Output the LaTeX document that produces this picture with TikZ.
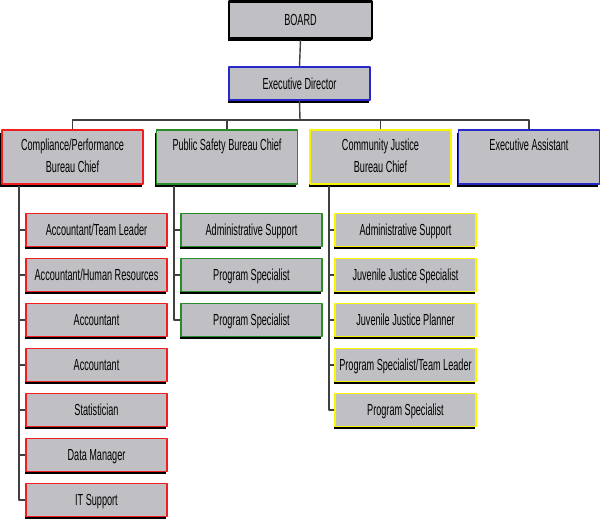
\documentclass[tikz,border=0pt]{standalone}
\usepackage{fontspec}
\setmainfont{Liberation Sans}[FakeStretch=0.57]
\usetikzlibrary{shadows}

\definecolor{boxgray}{RGB}{192,192,196}
\definecolor{linkgray}{RGB}{64,64,64}
\definecolor{redline}{RGB}{240,30,30}
\definecolor{greenline}{RGB}{40,140,40}
\definecolor{yellowline}{RGB}{250,245,0}
\definecolor{blueline}{RGB}{40,40,200}

% text of the bureau boxes sits at the top
\newcommand{\chieftxt}[1]{\parbox[c][54pt][t]{141pt}{\centering\vspace{5pt}\strut#1\strut}}

\begin{document}
\begin{tikzpicture}[x=1pt, y=-1pt, line join=round,
    box/.style={draw, fill=boxgray, line width=1.2pt, inner sep=0pt,
        minimum width=141pt, minimum height=33pt,
        text height=11.5pt, text depth=0pt,
        font=\fontsize{16}{22}\selectfont,
        drop shadow={shadow xshift=-1.5pt, shadow yshift=-2.5pt, fill=black, opacity=1}},
    chief/.style={box, minimum height=54pt, text height=, text depth=},
    link/.style={draw=linkgray, line width=1.4pt}]
    \useasboundingbox (0,0) rectangle (600,520);

    % top of the chart
    \node[box, draw=black, line width=2.6pt, minimum width=143pt, minimum height=37pt] (board) at (300.5,20) {BOARD};
    \node[box, draw=blueline] (exec) at (299.5,83.5) {Executive Director};

    % bureau chiefs
    \node[chief, draw=redline] (cpb) at (72.5,157) {\chieftxt{Compliance/Performance\\Bureau Chief}};
    \node[chief, draw=greenline] (psb) at (227,157) {\chieftxt{Public Safety Bureau Chief}};
    \node[chief, draw=yellowline] (cjb) at (380.5,157) {\chieftxt{Community Justice\\Bureau Chief}};
    \node[chief, draw=blueline] (ea) at (529,157) {\chieftxt{Executive Assistant}};

    % compliance/performance staff
    \node[box, draw=redline] (c1) at (96.5,230) {Accountant/Team Leader};
    \node[box, draw=redline] (c2) at (96.5,275) {Accountant/Human Resources};
    \node[box, draw=redline] (c3) at (96.5,320) {Accountant};
    \node[box, draw=redline] (c4) at (96.5,365) {Accountant};
    \node[box, draw=redline] (c5) at (96.5,410) {Statistician};
    \node[box, draw=redline] (c6) at (96.5,455) {Data Manager};
    \node[box, draw=redline] (c7) at (96.5,500) {IT Support};

    % public safety staff
    \node[box, draw=greenline] (p1) at (251.5,230) {Administrative Support};
    \node[box, draw=greenline] (p2) at (251.5,275) {Program Specialist};
    \node[box, draw=greenline] (p3) at (251.5,320) {Program Specialist};

    % community justice staff
    \node[box, draw=yellowline] (j1) at (405.5,230) {Administrative Support};
    \node[box, draw=yellowline] (j2) at (405.5,275) {Juvenile Justice Specialist};
    \node[box, draw=yellowline] (j3) at (405.5,320) {Juvenile Justice Planner};
    \node[box, draw=yellowline] (j4) at (405.5,365) {Program Specialist/Team Leader};
    \node[box, draw=yellowline] (j5) at (405.5,410) {Program Specialist};

    % connectors
    \coordinate (bus) at (300,120);
    \coordinate (cspine) at (19,186);
    \coordinate (pspine) at (174,186);
    \coordinate (jspine) at (329,186);

    \draw[link] (board.south) -- (exec.north);
    \draw[link] (exec.south) -- (bus);
    \draw[link] (bus) -| (cpb.north);
    \draw[link] (bus) -| (psb.north);
    \draw[link] (bus) -| (cjb.north);
    \draw[link] (bus) -| (ea.north);

    \draw[link] (cspine) |- (c7.west);
    \foreach \n in {c1,c2,c3,c4,c5,c6}
        \draw[link] (cspine |- \n.west) -- (\n.west);
    \draw[link] (pspine) |- (p3.west);
    \foreach \n in {p1,p2}
        \draw[link] (pspine |- \n.west) -- (\n.west);
    \draw[link] (jspine) |- (j5.west);
    \foreach \n in {j1,j2,j3,j4}
        \draw[link] (jspine |- \n.west) -- (\n.west);
\end{tikzpicture}
\end{document}
